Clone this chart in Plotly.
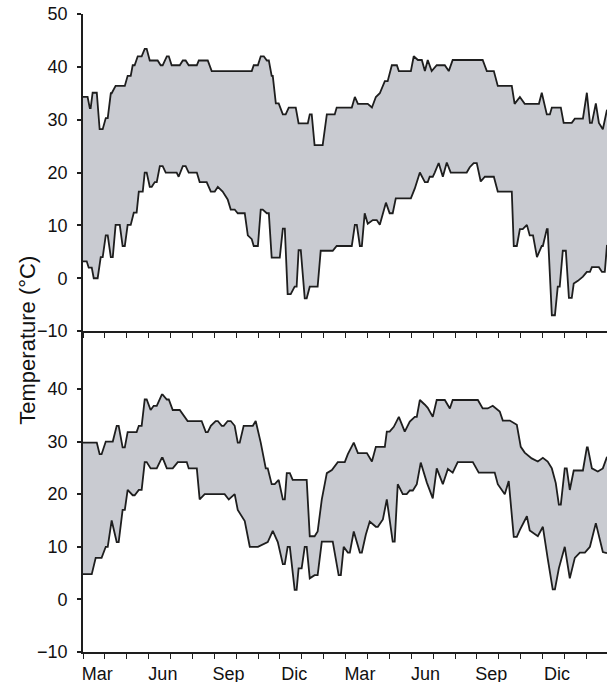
import plotly.graph_objects as go

# ---- data: months since 1 March of year 1 (x) and temperature (°C) ----
month_labels = ["Mar", "Jun", "Sep", "Dic", "Mar", "Jun", "Sep", "Dic"]
label_month_index = [0, 3, 6, 9, 12, 15, 18, 21]

top_max_x = [0.0, 0.21, 0.31, 0.35, 0.44, 0.63, 0.76, 0.90, 1.04, 1.13, 1.27, 1.31, 1.49, 1.91, 2.04, 2.18,
             2.27, 2.36, 2.50, 2.68, 2.82, 2.91, 3.05, 3.41, 3.55, 3.64, 3.83, 3.92, 4.05, 4.42, 4.56, 4.69,
             4.83, 5.20, 5.29, 5.70, 5.88, 7.71, 7.80, 7.99, 8.12, 8.26, 8.40, 8.49, 8.62, 8.67, 8.81, 8.94,
             9.13, 9.26, 9.40, 9.72, 9.85, 10.27, 10.36, 10.45, 10.58, 10.95, 11.14, 11.50, 11.59, 12.28,
             12.42, 12.56, 13.01, 13.20, 13.38, 13.56, 13.79, 13.92, 14.11, 14.34, 14.43, 14.98, 15.11, 15.30,
             15.48, 15.62, 15.75, 15.93, 16.16, 16.53, 16.71, 16.89, 18.26, 18.45, 18.77, 18.95, 19.59, 19.72,
             19.96, 20.18, 20.83, 20.96, 21.19, 21.33, 21.42, 21.83, 21.96, 22.33, 22.47, 22.84, 23.02, 23.16,
             23.25, 23.43, 23.57, 23.75, 23.94]
top_max_y = [34.3, 34.3, 32.2, 32.2, 35.1, 35.1, 28.2, 28.2, 30.3, 30.3, 35.0, 35.0, 36.4, 36.4, 38.3, 38.3,
             40.3, 40.3, 42.0, 42.0, 43.4, 43.4, 41.2, 41.2, 40.3, 40.3, 42.0, 42.0, 40.3, 40.3, 41.2, 41.2,
             40.3, 40.3, 41.2, 41.2, 39.2, 39.2, 40.3, 40.3, 42.0, 42.0, 41.2, 41.2, 38.3, 38.3, 33.1, 33.1,
             31.0, 31.0, 32.3, 32.3, 29.3, 29.3, 31.0, 31.0, 25.2, 25.2, 31.0, 31.0, 32.3, 32.3,
             34.3, 33.0, 33.0, 32.3, 34.3, 35.0, 37.3, 37.3, 40.3, 40.3, 39.2, 39.2, 42.0, 41.3,
             41.3, 39.2, 41.3, 39.2, 40.3, 40.3, 39.2, 41.3, 41.3, 39.2, 39.2, 36.4, 36.4, 33.0,
             34.3, 33.0, 33.0, 35.1, 31.0, 31.0, 32.3, 32.3, 29.4, 29.4, 30.2, 30.2, 35.1, 29.4,
             29.4, 33.1, 29.4, 28.2, 31.9]

top_min_x = [0.0, 0.17, 0.26, 0.40, 0.49, 0.67, 0.81, 0.90, 1.04, 1.13, 1.27, 1.36, 1.49, 1.68, 1.81, 1.91,
             2.04, 2.18, 2.32, 2.45, 2.55, 2.73, 2.82, 2.91, 3.05, 3.14, 3.28, 3.37, 3.51, 3.64, 3.78, 4.28,
             4.37, 4.56, 4.69, 4.83, 5.20, 5.33, 5.65, 5.84, 6.02, 6.16, 6.38, 6.61, 6.75, 6.93, 7.07, 7.39,
             7.53, 7.71, 7.80, 7.99, 8.12, 8.21, 8.40, 8.49, 8.62, 8.99, 9.13, 9.22, 9.35, 9.49, 9.67, 9.76,
             9.85, 9.95, 10.13, 10.22, 10.36, 10.72, 10.86, 11.41, 11.59, 12.28, 12.42, 12.51, 12.65, 12.74,
             12.87, 13.01, 13.24, 13.42, 13.56, 13.84, 14.01, 14.15, 14.29, 14.98, 15.16, 15.39, 15.62, 15.75,
             15.84, 15.98, 16.07, 16.25, 16.44, 16.62, 16.80, 16.98, 17.12, 17.53, 17.67, 17.85, 17.99, 18.17,
             18.36, 18.77, 18.95, 19.59, 19.68, 19.82, 19.96, 20.09, 20.28, 20.41, 20.56, 20.74, 20.96, 21.01,
             21.19, 21.23, 21.42, 21.56, 21.69, 21.78, 21.92, 22.06, 22.20, 22.33, 22.42, 22.61, 22.84, 23.02,
             23.16, 23.25, 23.57, 23.71, 23.84, 23.94]
top_min_y = [3.2, 3.2, 2.0, 2.0, 0.0, 0.0, 4.0, 4.0, 8.1, 8.1, 4.0, 4.0, 10.1, 10.1, 6.1, 6.1,
             10.1, 10.1, 12.4, 12.4, 16.4, 16.4, 20.0, 20.0, 17.3, 17.3, 18.2, 18.2, 21.2, 21.2, 20.0, 20.0,
             19.2, 21.2, 21.2, 20.0, 20.0, 18.2, 18.2, 16.4, 16.4, 17.3, 16.4, 14.9, 13.0, 13.0, 12.3, 12.3,
             8.1, 7.4, 6.1, 6.1, 13.0, 13.0, 12.3, 12.3, 3.9, 3.9, 9.4, 9.4, -3.0, -3.0, -1.6, -1.6,
             5.3, 5.3, -3.8, -3.8, -1.6, -1.6, 5.2, 5.2, 6.1, 6.1, 10.1, 10.1, 6.1, 6.1,
             12.3, 10.3, 11.0, 11.0, 10.1, 14.3, 12.3, 12.3, 15.1, 15.1, 17.0, 20.0, 18.2, 18.2,
             19.2, 19.2, 20.0, 21.8, 19.2, 21.9, 20.0, 20.0, 20.0, 20.0, 21.0, 21.8, 21.8, 18.3,
             19.2, 19.2, 16.4, 16.4, 6.1, 6.1, 9.3, 9.3, 10.1, 8.1, 8.1, 4.0, 6.1, 6.1,
             9.3, 9.3, -7.0, -7.0, -1.6, -1.6, 5.2, 5.2, -3.7, -3.7, -1.0, -0.5, 0.3, 1.2,
             1.2, 2.1, 2.1, 1.2, 1.2, 6.3]

bot_max_x = [0.0, 0.63, 0.76, 0.85, 1.04, 1.36, 1.54, 1.63, 1.81, 1.91, 2.04, 2.45, 2.55, 2.68, 2.82, 2.91,
             3.09, 3.23, 3.37, 3.60, 3.64, 3.83, 3.92, 4.10, 4.42, 4.60, 4.78, 5.42, 5.61, 5.70, 5.84, 6.06,
             6.16, 6.34, 6.43, 6.61, 6.75, 6.93, 7.07, 7.16, 7.34, 7.76, 7.89, 8.12, 8.35, 8.44, 8.62, 8.76,
             8.94, 9.13, 9.22, 9.31, 9.45, 9.58, 10.22, 10.36, 10.58, 10.72, 10.91, 11.14, 11.37, 11.64,
             11.96, 12.10, 12.37, 12.56, 12.97, 13.20, 13.38, 13.79, 13.88, 14.01, 14.20, 14.43, 14.70, 14.93,
             15.16, 15.25, 15.39, 15.62, 15.75, 15.98, 16.16, 16.53, 16.76, 16.89, 18.04, 18.26, 18.49, 18.72,
             19.04, 19.18, 19.50, 19.82, 20.00, 20.18, 20.50, 20.78, 21.01, 21.23, 21.42, 21.60, 21.74, 21.83,
             22.01, 22.10, 22.24, 22.42, 22.84, 23.02, 23.06, 23.25, 23.52, 23.75, 23.94]
bot_max_y = [29.8, 29.8, 27.6, 27.6, 30.0, 30.0, 33.0, 33.0, 28.9, 28.9, 31.8, 31.8, 33.0, 33.0, 38.0, 38.0,
             36.0, 36.8, 36.8, 38.9, 38.9, 38.0, 38.0, 36.0, 36.0, 34.9, 33.9, 33.9, 31.8, 31.8, 33.0, 33.9,
             33.9, 33.0, 33.0, 33.9, 33.9, 33.0, 29.8, 29.8, 33.0, 33.0, 33.9, 29.8, 24.9, 24.9, 21.9, 21.9,
             22.7, 19.0, 19.0, 24.0, 24.0, 22.7, 22.7, 12.0, 12.0, 12.9, 19.0, 24.0, 24.6, 26.1,
             26.1, 27.6, 29.8, 27.8, 27.8, 26.2, 29.0, 29.0, 31.9, 31.9, 32.8, 34.7, 31.9, 33.8,
             34.7, 34.7, 37.9, 37.0, 36.4, 34.7, 37.9, 37.9, 36.3, 37.9, 37.9, 36.3, 36.3, 36.8,
             35.7, 34.0, 34.0, 33.2, 29.0, 27.9, 26.8, 26.2, 26.9, 26.2, 24.9, 22.1, 18.0, 18.0,
             24.9, 24.9, 20.8, 24.5, 24.5, 28.9, 28.9, 24.9, 24.3, 24.9, 27.1]

bot_min_x = [0.0, 0.40, 0.58, 0.85, 1.04, 1.13, 1.31, 1.54, 1.63, 1.81, 1.91, 2.04, 2.27, 2.36, 2.55, 2.68,
             2.82, 2.91, 3.09, 3.37, 3.60, 3.64, 3.83, 4.10, 4.33, 4.74, 4.83, 5.20, 5.33, 5.56, 6.47, 6.66,
             6.93, 7.07, 7.39, 7.62, 7.99, 8.40, 8.44, 8.67, 8.90, 9.13, 9.22, 9.35, 9.45, 9.67, 9.76, 9.85,
             9.99, 10.13, 10.22, 10.36, 10.58, 10.72, 10.91, 11.41, 11.68, 11.78, 11.91, 12.10, 12.19, 12.37,
             12.65, 12.74, 12.92, 13.10, 13.38, 13.47, 13.70, 13.88, 14.15, 14.24, 14.38, 14.61, 14.79, 14.93,
             15.07, 15.25, 15.43, 15.71, 15.98, 16.16, 16.44, 16.67, 16.89, 17.12, 17.81, 18.08, 18.81, 18.95,
             19.27, 19.45, 19.68, 19.82, 19.96, 20.28, 20.41, 20.78, 21.01, 21.23, 21.46, 21.56, 21.74, 22.01,
             22.24, 22.47, 22.70, 22.93, 23.16, 23.43, 23.75, 23.94]
bot_min_y = [4.8, 4.8, 7.9, 7.9, 10.0, 10.0, 15.0, 10.9, 10.9, 17.0, 17.0, 20.8, 19.8, 19.8, 20.8, 20.8,
             26.1, 26.1, 24.9, 24.9, 26.9, 26.9, 24.9, 24.9, 26.1, 26.1, 24.9, 24.9, 19.0, 20.0, 20.0, 19.0,
             20.0, 17.0, 14.9, 10.0, 10.0, 10.9, 10.9, 13.0, 10.9, 6.7, 6.7, 10.0, 10.0, 1.8, 1.8, 5.9,
             5.9, 10.0, 10.0, 4.0, 4.6, 4.6, 11.0, 11.0, 4.6, 4.6, 10.0, 8.9, 8.9, 12.9,
             8.9, 8.9, 12.3, 14.8, 13.8, 13.8, 15.2, 19.0, 11.0, 11.0, 21.9, 20.0, 20.0, 20.7,
             20.7, 21.9, 26.0, 22.2, 19.2, 24.9, 21.9, 24.8, 24.1, 26.1, 26.1, 24.1, 24.1, 21.9,
             20.0, 22.5, 11.9, 11.9, 13.2, 15.8, 13.1, 12.0, 13.8, 7.8, 1.9, 1.9, 5.9, 10.0,
             4.0, 7.9, 8.9, 8.9, 10.0, 14.5, 9.0, 8.8]

top_yticks = [-10, 0, 10, 20, 30, 40, 50]
bot_yticks = [-10, 0, 10, 20, 30, 40]

# ---- style ----
LINE = "#1e1e1e"
FILL = "#c9cbd1"
FONT = "Liberation Sans, Arial, sans-serif"

fig = go.Figure()
for xmin, ymin, xmax, ymax, xa, ya in [
    (top_min_x, top_min_y, top_max_x, top_max_y, "x", "y"),
    (bot_min_x, bot_min_y, bot_max_x, bot_max_y, "x2", "y2"),
]:
    fig.add_trace(go.Scatter(x=xmin, y=ymin, mode="lines", line=dict(color=LINE, width=1.8),
                             xaxis=xa, yaxis=ya, showlegend=False, hoverinfo="skip"))
    fig.add_trace(go.Scatter(x=xmax, y=ymax, mode="lines", line=dict(color=LINE, width=1.8),
                             fill="tonexty", fillcolor=FILL,
                             xaxis=xa, yaxis=ya, showlegend=False, hoverinfo="skip"))

xr = [0, 23.94]
label_pos = [m + 0.65 for m in label_month_index]
month_bounds = list(range(25))

common_y = dict(showline=True, linecolor=LINE, linewidth=1.8, ticks="outside", ticklen=4,
                tickwidth=1.5, tickcolor=LINE, showgrid=False, zeroline=False, automargin=False,
                tickfont=dict(family=FONT, size=18, color="#111"), ticklabelstandoff=6)

fig.update_layout(
    width=607, height=682,
    margin=dict(l=83, r=0, t=14, b=30, autoexpand=False),
    paper_bgcolor="white", plot_bgcolor="white",
    xaxis=dict(domain=[0, 1], anchor="y", range=xr, showline=True, linecolor=LINE, linewidth=1.8,
               tickvals=month_bounds, ticks="outside", ticklen=5, tickwidth=1.3, tickcolor=LINE,
               showticklabels=False, showgrid=False, zeroline=False, automargin=False),
    yaxis=dict(domain=[0.503, 1], anchor="x", range=[-10, 50], tickvals=top_yticks, **common_y),
    xaxis2=dict(domain=[0, 1], anchor="y2", range=xr, showline=True, linecolor=LINE, linewidth=1.8,
                tickvals=label_pos, ticktext=month_labels, ticks="", showgrid=False, zeroline=False,
                automargin=False, tickfont=dict(family=FONT, size=18, color="#111"),
                ticklabelstandoff=4,
                minor=dict(tickvals=month_bounds, ticks="outside", ticklen=5, tickwidth=1.3,
                           tickcolor=LINE, showgrid=False)),
    yaxis2=dict(domain=[0, 0.503], anchor="x2", range=[-10, 51], tickvals=bot_yticks, **common_y),
    annotations=[dict(text="Temperature (°C)", textangle=-90, xref="paper", yref="paper",
                      x=-0.1075, y=0.489, xanchor="center", yanchor="middle", showarrow=False,
                      font=dict(family=FONT, size=22, color="#111"))],
)

fig.write_html("out.html", config={"displayModeBar": False},
               post_script="document.body.style.margin='0';document.body.style.overflow='hidden';")
